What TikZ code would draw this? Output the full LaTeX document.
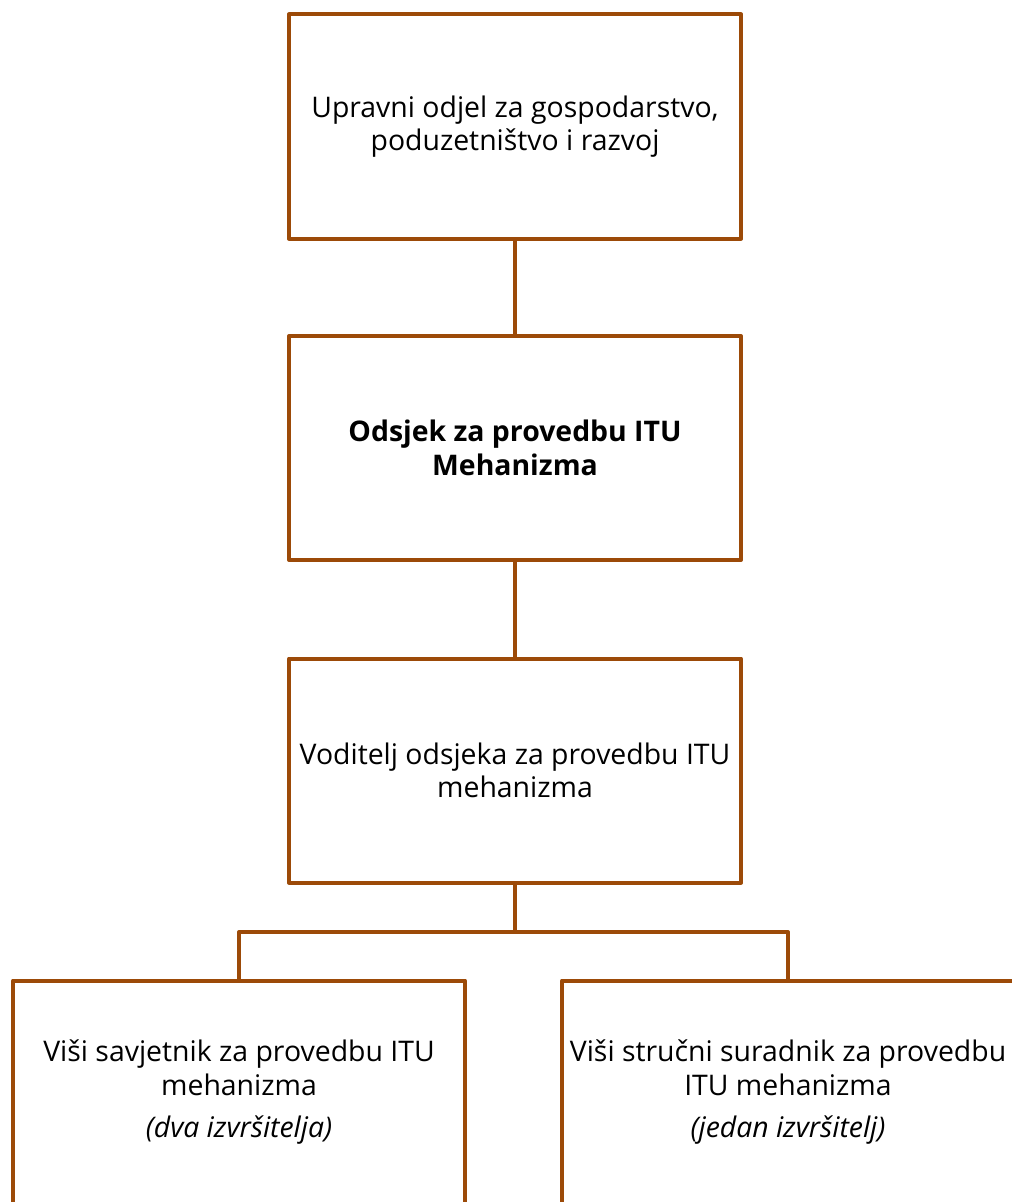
\documentclass[tikz,border=0pt]{standalone}
\usepackage{fontspec}
\setmainfont{Open Sans}
\usetikzlibrary{positioning}
\definecolor{okvir}{RGB}{156,74,8}

\begin{document}
\begin{tikzpicture}[x=0.75pt, y=-0.75pt,
  kutija/.style={draw=okvir, line width=3pt, line join=round, fill=white,
    minimum width=339pt, minimum height=168pt, align=center, inner sep=2pt,
    font=\fontsize{21.3}{25}\selectfont},
  veza/.style={draw=okvir, line width=3pt, line join=round}]
\useasboundingbox (0,0) rectangle (1012,1202);
\clip (0,0) rectangle (1012,1202);

\node[kutija] (odjel) at (515,126.5) {Upravni odjel za gospodarstvo,\\poduzetništvo i razvoj};
\node[kutija] (odsjek) at (515,448) {\textbf{Odsjek za provedbu ITU}\\\textbf{Mehanizma}};
\node[kutija] (voditelj) at (515,770.5) {Voditelj odsjeka za provedbu ITU\\mehanizma};

% izvrsitelji
\node[kutija] (savjetnik) at (239,1092.5) {Viši savjetnik za provedbu ITU\\mehanizma\\[7pt]\textit{(dva izvršitelja)}};
\node[kutija] (suradnik) at (788,1092.5) {Viši stručni suradnik za provedbu\\ITU mehanizma\\[7pt]\textit{(jedan izvršitelj)}};

\coordinate (grana) at (515,932);

\draw[veza] (odjel.south) -- (odsjek.north);
\draw[veza] (odsjek.south) -- (voditelj.north);
\draw[veza] (voditelj.south) -- (grana);
\draw[veza] (savjetnik.north) |- (grana) -| (suradnik.north);
\end{tikzpicture}
\end{document}
